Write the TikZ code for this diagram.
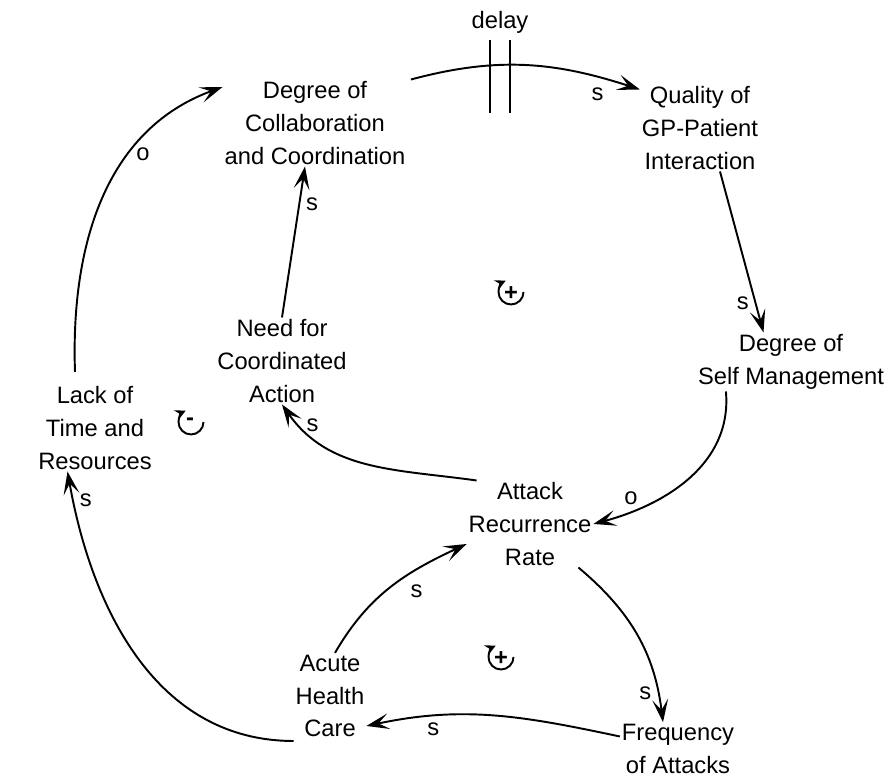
\documentclass[tikz,border=0pt]{standalone}
\usepackage{fontspec}
\setmainfont{Liberation Sans}
\usetikzlibrary{arrows.meta}

\begin{document}
\begin{tikzpicture}[every node/.style={font=\fontsize{13.5}{18.6}\selectfont},
    var/.style={align=center, inner sep=1pt},
    link/.style={-{Stealth[length=13pt, width=9pt, inset=6pt]}, line width=1.1pt},
    loop/.style={line width=1.1pt, -{Stealth[length=6pt, width=6pt, inset=2pt]}}]
    \useasboundingbox (0, 0) rectangle (17.8, 15.54);

    \node [var] (collab) at (6.3, 13.08) {Degree of\\Collaboration\\and Coordination};
    \node [var] (quality) at (14.0, 12.98) {Quality of\\GP-Patient\\Interaction};
    \node [var] (self) at (15.82, 8.3) {Degree of\\Self Management};
    \node [var] (attack) at (10.6, 5.06) {Attack\\Recurrence\\Rate};
    \node [var] (need) at (5.64, 8.32) {Need for\\Coordinated\\Action};
    \node [var] (lack) at (1.9, 6.98) {Lack of\\Time and\\Resources};
    \node [var] (acute) at (6.6, 1.62) {Acute\\Health\\Care};
    \node [var] (freq) at (13.56, 0.56) {Frequency\\of Attacks};

    \draw [link] ([xshift=2pt]collab.north east) to[out=15, in=162] node [pos=0.88, below left] {s} ([yshift=-0.1cm]quality.north west);
    \draw [line width=1.1pt] (9.8, 14.74) -- (9.8, 13.28);
    \draw [line width=1.1pt] (10.2, 14.74) -- (10.2, 13.28);
    \node (delay) at (10.0, 15.1) {delay};

    \draw [link] ([xshift=0.4cm]quality.south) to node [pos=0.82, left] {s} ([xshift=-0.55cm]self.north);
    \draw [link] ([xshift=0.6cm]self.south west) to[out=-85, in=15] node [pos=0.82, above] {o} (attack.east);
    \draw [link] ([xshift=0.2cm]attack.north west) to[out=172, in=-55] node [pos=0.88, right] {s} (need.south);
    \draw [link] (need.north) to node [pos=0.75, right] {s} ([xshift=-0.2cm]collab.south);
    \draw [link] ([xshift=-0.4cm, yshift=0.25cm]lack.north) to[out=92, in=200] node [pos=0.66, right] {o} ([yshift=-0.15cm]collab.north west);
    \draw [link] ([yshift=-0.9cm]acute.west) to[out=180, in=-80] node [pos=0.93, right] {s} ([xshift=-0.55cm]lack.south);
    \draw [link] ([xshift=0.1cm]acute.north) to[out=60, in=205] node [pos=0.6, below right] {s} ([yshift=-0.4cm]attack.west);
    \draw [link] ([xshift=-0.3cm]attack.south east) to[out=-40, in=97] node [pos=0.85, left] {s} ([xshift=-0.3cm]freq.north);
    \draw [link] ([yshift=0.25cm]freq.west) to[out=168, in=12] node [pos=0.75, below] {s} ([yshift=-0.6cm]acute.east);

    % loop symbols
    \draw [loop] (10.47, 9.7) arc[start angle=0, end angle=-245, radius=0.25];
    \node (r1) at (10.22, 9.66) {\textbf{+}};
    \draw [loop] (4.07, 7.1) arc[start angle=0, end angle=-245, radius=0.25];
    \node (b1) at (3.8, 7.1) {\textbf{-}};
    \draw [loop] (10.27, 2.4) arc[start angle=0, end angle=-245, radius=0.25];
    \node (r2) at (10.02, 2.36) {\textbf{+}};
\end{tikzpicture}
\end{document}
